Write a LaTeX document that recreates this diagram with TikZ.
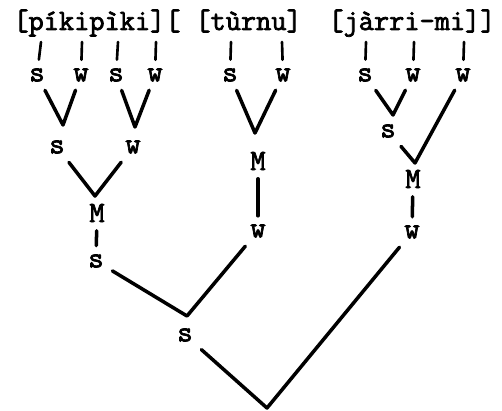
\documentclass[tikz,border=0pt]{standalone}
\usepackage{fontspec}
\usepackage{tikz}
\newfontfamily\typewr[FakeBold=2.5]{Latin Modern Mono}
\tikzset{%
	syl/.style    = {font=\fontsize{16.8}{18}\typewr, inner sep=0pt, anchor=base west},
	lab/.style    = {font=\fontsize{16.8}{18}\typewr, inner sep=0pt, outer sep=5pt},
	tick/.style   = {line width=1.5pt, line cap=round},
	branch/.style = {line width=2pt, line cap=round, line join=round},
}

\begin{document}
\begin{tikzpicture}[x=0.02cm,y=-0.02cm]
		\useasboundingbox (0,0) rectangle (502,411);
		
		\node[syl] (w1) at (13,30) {[píkipìki][};
		\node[syl] (w2) at (195,30) {[tùrnu]};
		\node[syl] (w3) at (328,30) {[jàrri-mi]]};
		
		\foreach \n/\x/\l/\t in {a1/37/s/41,a2/81/w/82,a3/116/s/118,a4/155/w/156,b1/230/s/231,b2/283/w/282,c1/365/s/366,c2/413/w/414,c3/463/w/464} {
			\node[lab] (\n) at (\x,75) {\l};
			\draw[tick] (\t,42) coordinate (t\n) -- (\n);
		}
		
		\coordinate (ja) at (63,125);
		\coordinate (jb) at (135,127);
		\coordinate (jc) at (255,133);
		\coordinate (jd) at (393,115);
		\draw[branch] (a1) -- (ja) -- (a2);
		\draw[branch] (a3) -- (jb) -- (a4);
		\draw[branch] (b1) -- (jc) -- (b2);
		\draw[branch] (c1) -- (jd) -- (c2);
		
		\node[lab] (d1) at (57,147) {s};
		\node[lab] (d2) at (133,147) {w};
		\coordinate (ke) at (95,196);
		\draw[branch] (d1) -- (ke) -- (d2);
		\node[lab] (m1) at (97,213) {M};
		\node[lab] (d3) at (96,261) {s};
		\draw[branch] (m1) -- (d3);
		
		\node[lab] (e1) at (258,161) {M};
		\node[lab] (e2) at (258,231) {w};
		\draw[branch] (e1) -- (e2);
		
		\node[lab] (f1) at (388,131) {s};
		\coordinate (kf) at (415,163);
		\draw[branch] (f1) -- (kf) -- (c3);
		\node[lab] (f2) at (413,179) {M};
		\node[lab] (f3) at (412,232) {w};
		\draw[branch] (f2) -- (f3);
		
		\coordinate (kg) at (187,316);
		\draw[branch] (d3) -- (kg) -- (e2);
		\node[lab] (g1) at (185,335) {s};
		\coordinate (root) at (267,408);
		\draw[branch] (g1) -- (root) -- (f3);
	\end{tikzpicture}
\end{document}
